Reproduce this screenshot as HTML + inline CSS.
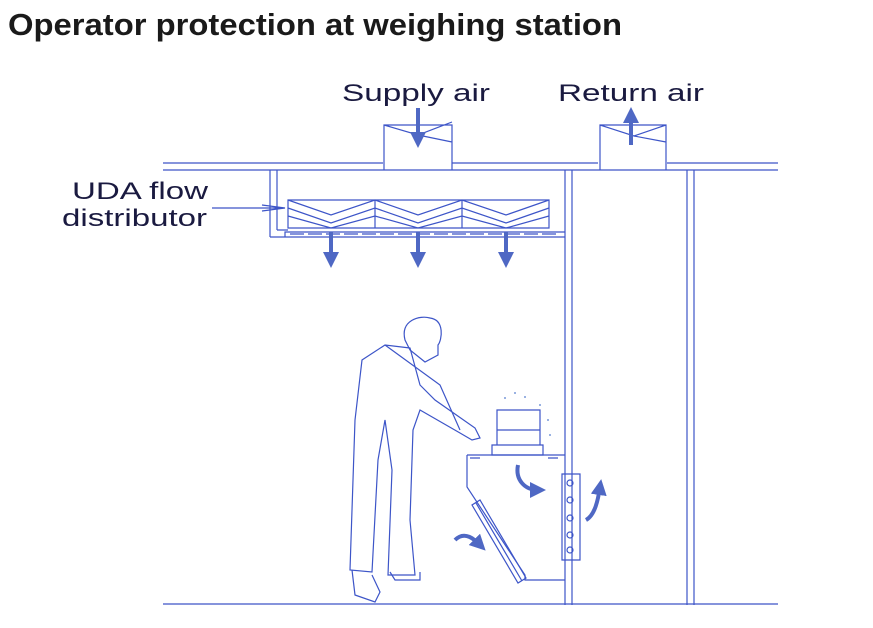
<!DOCTYPE html>
<html><head><style>
body{margin:0;background:#fff;width:873px;height:628px;overflow:hidden}
svg{position:absolute;left:0;top:0}
</style></head><body>
<svg width="873" height="628" viewBox="0 0 873 628">
<defs>
<marker id="ah" markerWidth="4" markerHeight="4" refX="2" refY="2" orient="auto" markerUnits="strokeWidth">
<path d="M0,0 L4,2 L0,4 Z" fill="#4f68c4"/></marker>
</defs>
<text x="8" y="35" font-family="Liberation Sans, sans-serif" font-weight="bold" font-size="31" fill="#1a1a1a" textLength="614" lengthAdjust="spacingAndGlyphs">Operator protection at weighing station</text>
<g font-family="Liberation Sans, sans-serif" font-size="24" fill="#1a1a40">
<text x="342" y="101" textLength="148" lengthAdjust="spacingAndGlyphs">Supply air</text>
<text x="558" y="101" textLength="146" lengthAdjust="spacingAndGlyphs">Return air</text>
<text x="72" y="199" textLength="136" lengthAdjust="spacingAndGlyphs">UDA flow</text>
<text x="62" y="226" textLength="145" lengthAdjust="spacingAndGlyphs">distributor</text>
</g>
<g stroke="#3d55c8" stroke-width="1.2" fill="none">
<path d="M163 163H383M452 163H598M667 163H778"/>
<path d="M163 170H778"/>
<path d="M384 170V125L452 125V170M384 125L418 135L452 122M418 135L452 142"/>
<path d="M600 170V125L666 125V170M600 125L634 136L666 125M634 136L666 142"/>
<path d="M270 170V237M277 170V230M565 170V605M572 170V605M687 170V605M694 170V605"/>
<path d="M163 604H778"/>
<path d="M288 200H549V228H288Z M375 200V228M462 200V228"/>
<path d="M288 200L331 215L375 200L418 215L462 200L506 215L549 200"/>
<path d="M288 208L331 223L375 208L418 223L462 208L506 223L549 208"/>
<path d="M288 216L331 228L375 216L418 228L462 216L506 228L549 216"/>
<path d="M270 237H285V232H565M285 237H565M277 230H288" />
<path d="M290 234H560" stroke-dasharray="14 4"/>
<path d="M212 208H285M262 205L285 208L262 211"/>
<path d="M467 455H565M467 455V487L525 575V580H565"/>
<path d="M470 458H480M548 458H558"/>
<path d="M492 445H543V455H492Z M497 410H540V445H497Z M497 430H540"/>
<path d="M472 505L518 583L526 578L480 500Z M476 503L522 581"/>
<path d="M562 474H580V560H562Z"/>
<circle cx="570" cy="483" r="3"/><circle cx="570" cy="500" r="3"/><circle cx="570" cy="518" r="3"/><circle cx="570" cy="535" r="3"/><circle cx="570" cy="550" r="3"/>
<path d="M405 340C400 320 420 315 430 318C445 320 442 340 438 345L438 355L425 362L410 350Z"/>
<path d="M410 348L385 345L362 360L355 420L350 570L372 572L378 460L385 420L392 470L388 575L415 575L410 520L413 430L420 410L460 433L472 440L480 438L475 428L435 400L420 385Z"/>
<path d="M385 345L440 385L460 430"/>
<path d="M352 570L355 595L375 602L380 592L372 575M390 572L395 580L420 580L420 572"/>
</g>
<g stroke="#4f68c4" stroke-width="4" fill="none" marker-end="url(#ah)">
<path d="M418 108V140"/>
<path d="M631 145V115"/>
<path d="M331 232V260"/><path d="M418 232V260"/><path d="M506 232V260"/>
<path d="M518 465C515 480 525 490 538 490"/>
<path d="M586 520C595 515 598 500 600 487"/>
<path d="M455 540C465 530 475 540 480 545"/>
</g>
<g fill="#7a9ad8"><circle cx="505" cy="398" r="1"/><circle cx="515" cy="393" r="1"/><circle cx="525" cy="397" r="1"/><circle cx="540" cy="405" r="1"/><circle cx="548" cy="420" r="1"/><circle cx="550" cy="435" r="1"/></g>
</svg>
</body></html>
